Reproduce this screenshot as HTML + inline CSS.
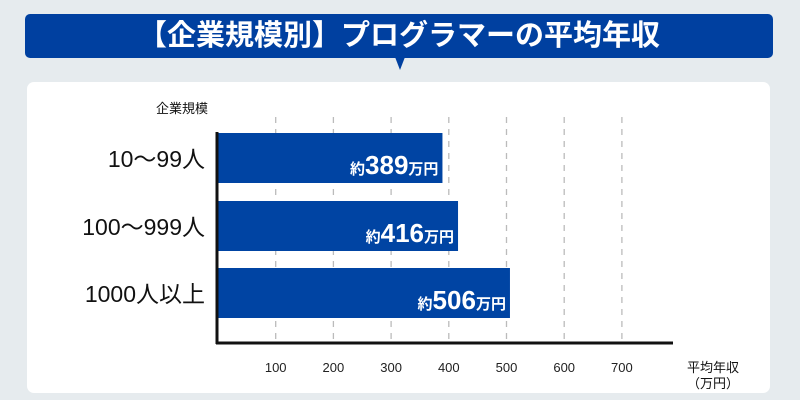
<!DOCTYPE html>
<html><head><meta charset="utf-8">
<style>
body{margin:0;width:800px;height:400px;background:#e6ebee;font-family:"Liberation Sans","Noto Sans CJK JP",sans-serif;position:relative;overflow:hidden}
.banner{position:absolute;left:25px;top:14px;width:748px;height:44px;background:#0040a0;border-radius:5px;color:#fff;font-weight:bold;font-size:29px;text-align:center;line-height:44px}
.ptr{position:absolute;left:395px;top:57px;width:0;height:0;border-left:5px solid transparent;border-right:5px solid transparent;border-top:13px solid #0040a0}
.panel{position:absolute;left:27px;top:82px;width:743px;height:311px;background:#fff;border-radius:7px}
svg{position:absolute;left:0;top:0}
</style></head><body>
<div class="banner">【企業規模別】プログラマーの平均年収</div>
<div class="ptr"></div>
<div class="panel"></div>
<svg id="c" width="800" height="400"></svg>
<script>
const categories=["10～99人","100～999人","1000人以上"];
const values=[389,416,506];
const ticks=[100,200,300,400,500,600,700];
const NS="http://www.w3.org/2000/svg";
const svg=document.getElementById('c');
const x0=218,scale=0.577;
const xs=v=>x0+v*scale;
const bandTop=[133,201,268],bandH=50;
function el(t,a,txt){const e=document.createElementNS(NS,t);for(const k in a)e.setAttribute(k,a[k]);if(txt!=null)e.textContent=txt;svg.appendChild(e);return e;}
ticks.forEach(t=>{
 const g=el('line',{x1:xs(t),x2:xs(t),y1:117,y2:342,stroke:'#bbb','stroke-width':1.3,'stroke-dasharray':'6,6'});
 
 
 const l=el('text',{x:xs(t),y:372,'text-anchor':'middle','font-size':13,fill:'#222'},t);
 
 
});
values.forEach((v,i)=>{
 const r=el('rect',{x:x0,y:bandTop[i],width:xs(v)-x0,height:bandH,fill:'#0044a3'});
 
 
 const t=el('text',{x:xs(v)-4,y:bandTop[i]+41,'text-anchor':'end',fill:'#fff','font-weight':'bold'});
 
 
 const a=document.createElementNS(NS,'tspan');a.setAttribute('font-size',15);a.textContent='約';t.appendChild(a);
 const b=document.createElementNS(NS,'tspan');b.setAttribute('font-size',26);b.textContent=v;t.appendChild(b);
 const c=document.createElementNS(NS,'tspan');c.setAttribute('font-size',15);c.textContent='万円';t.appendChild(c);
 const c2=el('text',{x:205,y:bandTop[i]+34,'text-anchor':'end','font-size':23,fill:'#111'},categories[i]);
 
 
});
const ya=el('line',{x1:217,x2:217,y1:132,y2:344,stroke:'#111','stroke-width':3});


const xa=el('line',{x1:216,x2:673,y1:343,y2:343,stroke:'#111','stroke-width':3});


const yt=el('text',{x:208,y:113,'text-anchor':'end','font-size':13,fill:'#111'},'企業規模');


const xt1=el('text',{x:713,y:372,'text-anchor':'middle','font-size':13,fill:'#111'},'平均年収');


const xt2=el('text',{x:713,y:388,'text-anchor':'middle','font-size':13,fill:'#111'},'（万円）');


</script>
</body></html>
